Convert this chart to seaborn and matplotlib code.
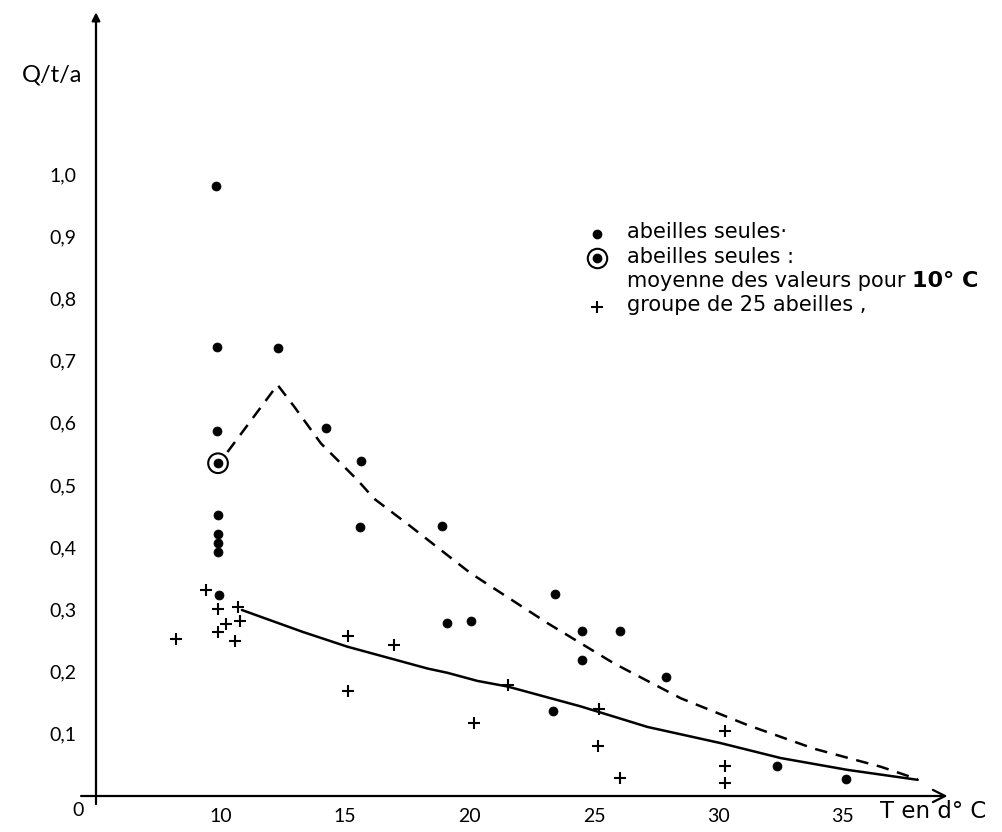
import matplotlib
matplotlib.use("Agg")
import matplotlib.pyplot as plt
import seaborn as sns
from matplotlib.lines import Line2D

# ---- data ----
dots_T = [9.8, 9.85, 12.32, 9.85, 14.24, 15.66, 9.9, 9.9, 9.9, 9.9, 9.95,
          15.61, 18.89, 19.08, 20.07, 23.43, 24.52, 26.06, 24.50, 27.88,
          23.36, 32.34, 35.14]
dots_Q = [0.981, 0.722, 0.720, 0.587, 0.591, 0.539, 0.451, 0.422, 0.407,
          0.392, 0.323, 0.432, 0.434, 0.278, 0.282, 0.325, 0.265, 0.265,
          0.219, 0.191, 0.137, 0.049, 0.027]

mean_T = [9.9]
mean_Q = [0.535]

cross_T = [8.23, 9.40, 9.89, 10.70, 10.24, 10.79, 9.88, 10.57, 15.13, 16.96,
           15.11, 20.19, 21.53, 25.21, 25.18, 26.05, 30.27, 30.28, 30.27]
cross_Q = [0.252, 0.331, 0.300, 0.304, 0.277, 0.281, 0.264, 0.249, 0.257,
           0.243, 0.169, 0.118, 0.178, 0.140, 0.081, 0.029, 0.105, 0.048,
           0.021]

solid_T = [10.86, 13.29, 15.1, 18.31, 19.12, 20.32, 21.53, 24.47, 27.15,
           30.09, 32.5, 35.18, 38.0]
solid_Q = [0.299, 0.264, 0.240, 0.205, 0.198, 0.185, 0.176, 0.144, 0.111,
           0.085, 0.061, 0.042, 0.026]

dash_T = [10.28, 12.29, 12.96, 14.03, 15.5, 16.17, 17.65, 19.12, 20.05,
          23.13, 25.81, 28.49, 31.17, 33.84, 36.52, 38.0]
dash_Q = [0.553, 0.661, 0.626, 0.567, 0.508, 0.478, 0.433, 0.387, 0.358,
          0.278, 0.213, 0.157, 0.114, 0.076, 0.047, 0.027]

x_ticks = [5, 10, 15, 20, 25, 30, 35]
x_labels = ["", "10", "15", "20", "25", "30", "35"]
y_ticks = [0.1, 0.2, 0.3, 0.4, 0.5, 0.6, 0.7, 0.8, 0.9, 1.0]
y_labels = ["0,1", "0,2", "0,3", "0,4", "0,5", "0,6", "0,7", "0,8", "0,9", "1,0"]

legend_labels = ["abeilles seules·", "abeilles seules :",
                 "moyenne des valeurs pour ", "groupe de 25 abeilles ,"]
legend_bold = "10° C"

# ---- figure ----
sns.set_style("white")
plt.rcParams['font.family'] = ['Lato', 'DejaVu Sans']
plt.rcParams['text.color'] = 'black'
plt.rcParams['xtick.color'] = 'black'
plt.rcParams['ytick.color'] = 'black'
plt.rcParams['xtick.labelcolor'] = 'black'
plt.rcParams['ytick.labelcolor'] = 'black'

W, H = 1002, 832
fig = plt.figure(figsize=(W / 100, H / 100), dpi=100)
x0, x1 = 4.3, 39.5
y0, y1 = -0.02, 1.26
px_x = lambda T: 96 + (T - 5) * 24.9
px_y = lambda Q: 796 - Q * 622
left, right = px_x(x0), px_x(x1)
top, bottom = px_y(y1), px_y(y0)
ax = fig.add_axes([left / W, 1 - bottom / H, (right - left) / W, (bottom - top) / H])
ax.set_xlim(x0, x1)
ax.set_ylim(y0, y1)

# lines
sns.lineplot(x=solid_T, y=solid_Q, sort=False, ax=ax, color='black', lw=1.8)
sns.lineplot(x=dash_T, y=dash_Q, sort=False, ax=ax, color='black', lw=1.8,
             linestyle=(0, (5, 3.5)))

# points
sns.scatterplot(x=dots_T, y=dots_Q, ax=ax, marker='o', s=42, color='black',
                edgecolor='black', linewidth=0.5, zorder=5)
sns.scatterplot(x=mean_T, y=mean_Q, ax=ax, marker='o', s=42, color='black',
                edgecolor='black', linewidth=0.5, zorder=5)
sns.scatterplot(x=mean_T, y=mean_Q, ax=ax, marker='o', s=200, facecolor='none',
                edgecolor='black', linewidth=1.5, zorder=5)
sns.scatterplot(x=cross_T, y=cross_Q, ax=ax, marker='+', s=75, color='black',
                linewidth=1.5, zorder=5)

# axes
for s in ['top', 'right']:
    ax.spines[s].set_visible(False)
ax.spines['left'].set_position(('data', 5))
ax.spines['bottom'].set_position(('data', 0))
ax.spines['left'].set_visible(False)
ax.spines['bottom'].set_visible(False)
ax.annotate('', xy=(39.2, 0), xytext=(4.4, 0), xycoords='data',
            arrowprops=dict(arrowstyle='->', lw=1.6, color='black',
                            mutation_scale=22, shrinkA=0, shrinkB=0),
            annotation_clip=False)
ax.annotate('', xy=(5, 1.26), xytext=(5, -0.013), xycoords='data',
            arrowprops=dict(arrowstyle='-|>', lw=1.6, color='black',
                            mutation_scale=12, shrinkA=0, shrinkB=0),
            annotation_clip=False)

ax.set_xticks(x_ticks)
ax.set_xticklabels(x_labels)
ax.set_yticks(y_ticks)
ax.set_yticklabels(y_labels)
ax.tick_params(axis='x', direction='out', length=6, width=1.4, pad=3,
               labelsize=14, colors='black')
ax.tick_params(axis='y', direction='out', length=11, width=1.4, pad=3,
               labelsize=14, colors='black')

fig.text(78 / W, 1 - 810 / H, "0", fontsize=14, ha='center', va='center',
         color='black')
fig.text(22 / W, 1 - 75 / H, "Q/t/a", fontsize=17, ha='left', va='center',
         color='black')
fig.text(880 / W, 1 - 811 / H, "T en d° C", fontsize=16.5, ha='left',
         va='center', family=['DejaVu Sans'], color='black')

# legend (manual)
lx = 597 / W
ly = [234, 258, 307]
fig.add_artist(Line2D([lx], [1 - ly[0] / H], marker='o', ms=6, color='black', lw=0))
fig.add_artist(Line2D([lx], [1 - ly[1] / H], marker='o', ms=6, color='black', lw=0))
fig.add_artist(Line2D([lx], [1 - ly[1] / H], marker='o', ms=14, mfc='none',
                      mec='black', mew=1.5, lw=0))
fig.add_artist(Line2D([lx], [1 - ly[2] / H], marker='+', ms=9, mew=1.5,
                      color='black', lw=0))
texts = []
for txt, yy in zip(legend_labels, [232, 257, 281, 305]):
    t = fig.text(627 / W, 1 - yy / H, txt, fontsize=15, ha='left',
                 va='center', family=['DejaVu Sans'], color='black')
    texts.append(t)
renderer = fig.canvas.get_renderer()
bb = texts[2].get_window_extent(renderer)
fig.text(bb.x1 / W, 1 - 281 / H, legend_bold, fontsize=16, ha='left',
         va='center', family=['DejaVu Sans'], fontweight='bold', color='black')

fig.savefig("out.png", dpi=100)
